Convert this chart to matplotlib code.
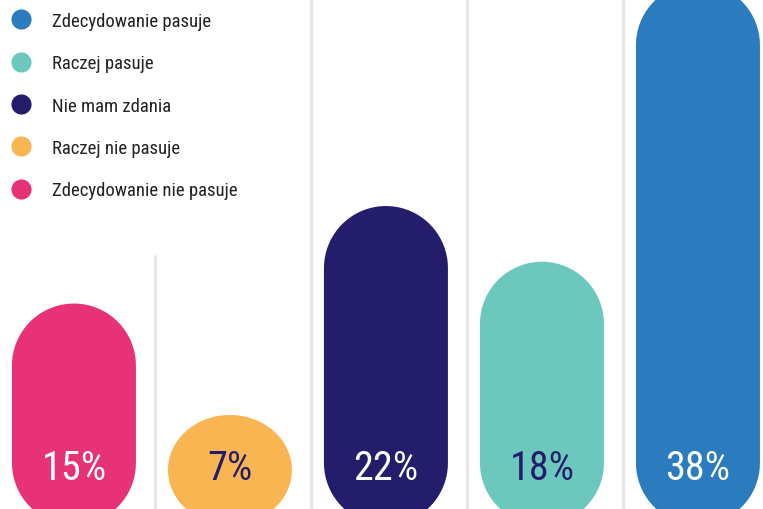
import matplotlib.pyplot as plt
import numpy as np
from matplotlib.patches import Polygon
from matplotlib.lines import Line2D

# dane
categories = ['Zdecydowanie nie pasuje', 'Raczej nie pasuje', 'Nie mam zdania',
              'Raczej pasuje', 'Zdecydowanie pasuje']
values = [15, 7, 22, 18, 38]
colors = ['#e83278', '#f9b551', '#231d6b', '#6cc8bd', '#2b7bbf']
label_colors = ['white', '#231d6b', 'white', '#231d6b', 'white']
legend_order = [4, 3, 2, 1, 0]

font = ['Roboto Condensed', 'DejaVu Sans']

fig = plt.figure(figsize=(7.63, 5.10), dpi=100)
ax = fig.add_axes([0, 0, 1, 1])
ax.set_xlim(-0.474, 4.417)
ax.set_ylim(0.25, 36.86)
ax.axis('off')

# px -> jednostki danych
px_x = 1 / 156
px_y = 1 / 13.93
half_w = 62 * px_x
bottom = -0.9


def pill(xc, top, y0, color):
    h = top - y0
    ry = min(62 * px_y, h / 2)
    t = np.linspace(0, np.pi, 40)
    # gorny luk
    up_x = xc + half_w * np.cos(t)
    up_y = top - ry + ry * np.sin(t)
    # dolny luk
    lo_x = xc - half_w * np.cos(t)
    lo_y = y0 + ry - ry * np.sin(t)
    pts = np.column_stack([np.r_[up_x, lo_x], np.r_[up_y, lo_y]])
    ax.add_patch(Polygon(pts, closed=True, facecolor=color, edgecolor='none', zorder=2))


# linie siatki
for i in range(len(values) - 1):
    ymax = 18.5 if i == 0 else 36.86
    ax.vlines(i + 0.52, 0.25, ymax, color='#e6e6e6', lw=2.2, zorder=1)

for i, v in enumerate(values):
    pill(i, v, bottom, colors[i])
    ax.text(i, 3.2, f'{v}%', ha='center', va='center', fontsize=29,
            color=label_colors[i], family=font, zorder=3)

handles = [Line2D([], [], marker='o', ls='none', markersize=14.5,
                  markerfacecolor=colors[i], markeredgecolor='none') for i in legend_order]
labels = [categories[i] for i in legend_order]
leg = ax.legend(handles, labels, loc='upper left', bbox_to_anchor=(-0.019, 1.008),
                frameon=False, labelspacing=1.3, handletextpad=0.62,
                prop={'family': font, 'size': 13.5})
for t in leg.get_texts():
    t.set_color('#222222')

fig.savefig('out.png', dpi=100)
